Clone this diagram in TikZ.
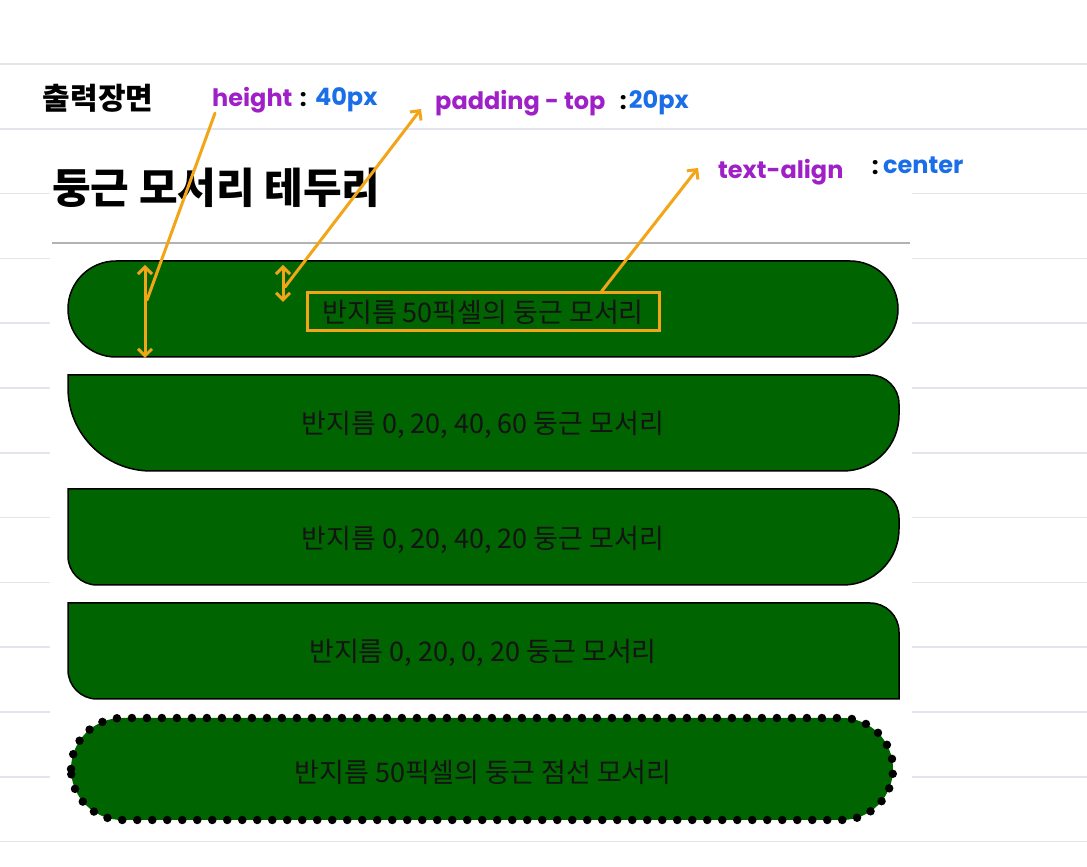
\documentclass[tikz,border=0pt]{standalone}
\usepackage{fontspec}
\setmainfont{Noto Sans CJK KR}
\newfontfamily\handfont{Poppins}
\usetikzlibrary{positioning, arrows.meta}

\definecolor{boxgreen}{HTML}{006400}
\definecolor{hlorange}{HTML}{F2A516}
\definecolor{notepurple}{HTML}{A020C8}
\definecolor{noteblue}{HTML}{1A6EE8}
\definecolor{ruleline}{HTML}{E2E5EC}

\begin{document}
\begin{tikzpicture}[x=1pt, y=1pt,
   greenbox/.style={draw=black, line width=1.5pt, fill=boxgreen},
   dotbox/.style={fill=boxgreen, draw=black, line width=8.5pt, line cap=round,
         dash pattern=on 0pt off 15pt},
   boxtext/.style={font=\fontsize{27}{31}\selectfont, text=black!92, inner sep=0pt},
   note/.style={font=\handfont\bfseries\fontsize{24}{28}\selectfont, text=notepurple, inner sep=0pt},
   val/.style={font=\handfont\bfseries\fontsize{24}{28}\selectfont, text=noteblue, inner sep=0pt},
   colon/.style={font=\handfont\bfseries\fontsize{24}{28}\selectfont, inner sep=0pt},
   hlline/.style={draw=hlorange, line width=3pt, line cap=round},
   arr/.style={hlline, -{Straight Barb[length=7pt, width=14pt]}},
   darr/.style={hlline, {Straight Barb[length=7pt, width=14pt]}-{Straight Barb[length=7pt, width=14pt]}},
  ]
  \useasboundingbox (0,0) rectangle (1087,867);
  \fill[white] (0,0) rectangle (1087,867);
  % ruled paper
  \foreach \k in {0,...,12}
    \draw[ruleline, line width=1.5pt] (0,{803-64.8*\k}) -- (1087,{803-64.8*\k});
  \fill[white] (50,29) rectangle (912,717);

  \node[anchor=west, font=\bfseries\fontsize{42}{46}\selectfont, inner sep=0pt] (title) at (52,679) {둥근 모서리 테두리};
  \draw[black!30, line width=2pt] (52,624) -- (910,624);

  % the five boxes
  \draw[greenbox, rounded corners=48pt] (68,510) rectangle (898,606);
  \draw[greenbox] (68,492) -- (870,492) arc[start angle=90, end angle=0, radius=29pt]
    -- (899,452) arc[start angle=0, end angle=-90, radius=56pt]
    -- (151,396) arc[start angle=270, end angle=180, radius=83pt] -- cycle;
  \draw[greenbox] (68,378) -- (870,378) arc[start angle=90, end angle=0, radius=29pt]
    -- (899,338) arc[start angle=0, end angle=-90, radius=56pt]
    -- (97,282) arc[start angle=270, end angle=180, radius=29pt] -- cycle;
  \draw[greenbox] (68,264) -- (870,264) arc[start angle=90, end angle=0, radius=29pt]
    -- (899,168) -- (97,168) arc[start angle=270, end angle=180, radius=29pt] -- cycle;
  \draw[dotbox, rounded corners=51pt] (71,47) rectangle (893,149);

  \node[boxtext, draw=hlorange, line width=3pt, minimum width=352pt, minimum height=38pt] (t1) at (483,555) {반지름 50픽셀의 둥근 모서리};
  \node[boxtext] (t2) at (483,442) {반지름 0, 20, 40, 60 둥근 모서리};
  \node[boxtext] (t3) at (483,327) {반지름 0, 20, 40, 20 둥근 모서리};
  \node[boxtext] (t4) at (483,214) {반지름 0, 20, 0, 20 둥근 모서리};
  \node[boxtext] (t5) at (483,95) {반지름 50픽셀의 둥근 점선 모서리};

  % handwritten notes
  \node[font=\bfseries\fontsize{30}{34}\selectfont, inner sep=0pt] (shot) at (98,769) {출력장면};
  \node[note, anchor=west] (hgt) at (212,767) {height};
  \node[colon, right=7pt of hgt] (hgtc) {:};
  \node[val, right=8pt of hgtc] (hgtv) {40px};
  \node[note, anchor=west] (pad) at (435,764) {padding - top};
  \node[colon, right=14pt of pad] (padc) {:};
  \node[val, right=2pt of padc] (padv) {20px};
  \node[note, anchor=west] (ta) at (718,695) {text-align};
  \node[colon, right=28pt of ta, yshift=4pt] (tac) {:};
  \node[val, right=4pt of tac, yshift=3pt] (tav) {center};

  \coordinate (htop) at (145,602);
  \coordinate (hbot) at (145,509);
  \coordinate (hjoin) at (147,567);
  \coordinate (ptop) at (283,602);
  \coordinate (pbot) at (283,565);
  \coordinate (pjoin) at (285,580);

  \draw[darr] (htop) -- (hbot);
  \draw[hlline] ([xshift=3pt]hgt.south west) -- (hjoin);
  \draw[darr] (ptop) -- (pbot);
  \draw[arr] (pjoin) -- ([xshift=-14pt, yshift=-6pt]pad.west);
  \draw[arr] ([xshift=-59pt]t1.north east) -- ([xshift=-20pt, yshift=4pt]ta.west);
\end{tikzpicture}
\end{document}
